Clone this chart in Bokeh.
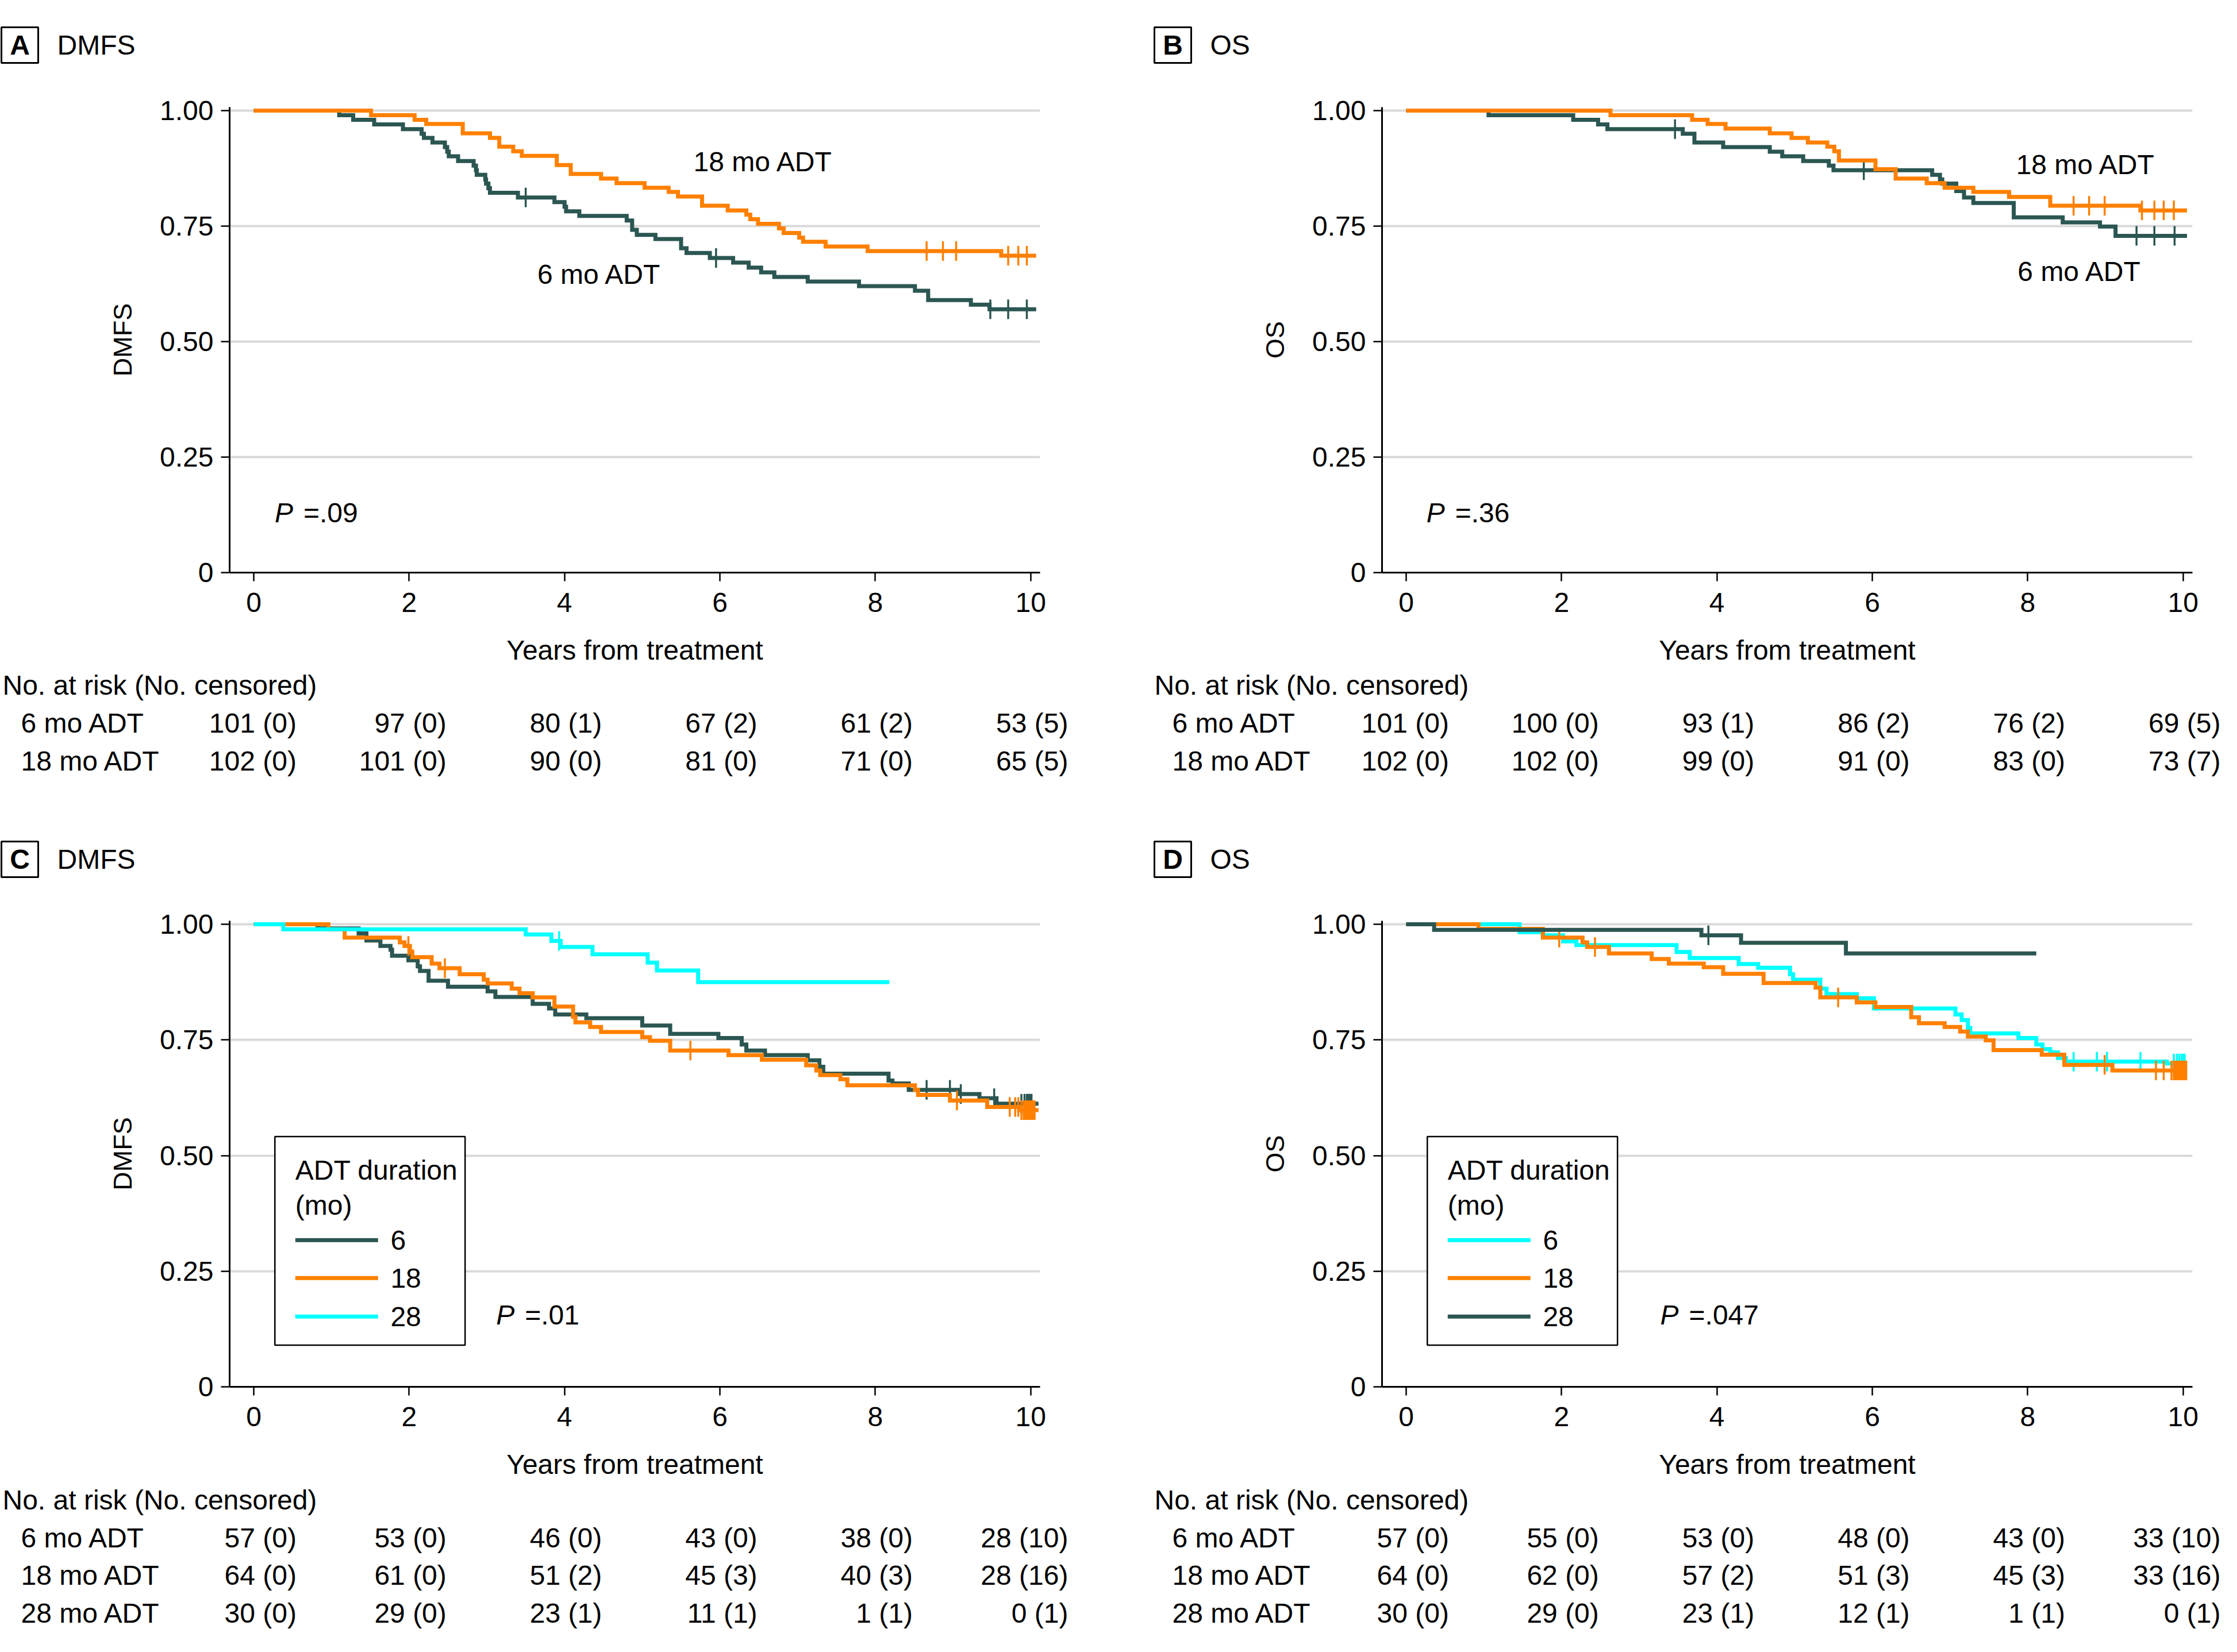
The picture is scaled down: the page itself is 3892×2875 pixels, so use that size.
import numpy as np
from bokeh.plotting import figure
from bokeh.layouts import column, row
from bokeh.models import Range1d, FixedTicker, CustomJSTickFormatter
from bokeh.core.properties import value
from bokeh.embed import file_html
from bokeh.resources import INLINE

FONT = "Liberation Sans"
FS = "48px"
DARK = "#2b5652"
ORANGE = "#ff8000"
CYAN = "#00ffff"
GRID = "#d9d9d9"

# ------------------------------------------------------------------ data
x_ticks = [0, 2, 4, 6, 8, 10]
y_ticks = [0, 0.25, 0.5, 0.75, 1.0]

# Panel A: DMFS, 6 vs 18 mo ADT
A6_t = [0, 1.10, 1.28, 1.55, 1.92, 2.16, 2.19, 2.30, 2.46, 2.49, 2.51, 2.63, 2.83, 2.86, 2.87, 2.98, 2.99, 3.02, 3.04, 3.40,
        3.87, 4.00, 4.02, 4.19, 4.80, 4.87, 4.93, 5.17, 5.50, 5.57, 5.87, 6.17, 6.37, 6.53, 6.70, 7.13, 7.79, 8.51, 8.68, 9.23,
        9.47, 10.07]
A6_s = [1.0, 0.990, 0.980, 0.970, 0.960, 0.950, 0.941, 0.931, 0.921, 0.911, 0.901, 0.891, 0.881, 0.871, 0.861, 0.851, 0.842,
        0.832, 0.822, 0.812, 0.802, 0.792, 0.782, 0.772, 0.762, 0.742, 0.731, 0.722, 0.702, 0.692, 0.681, 0.671, 0.660, 0.650,
        0.640, 0.630, 0.620, 0.610, 0.590, 0.580, 0.570, 0.570]
A6_c = [3.50, 5.95, 9.48, 9.71, 9.95]
A18_t = [0, 1.51, 2.07, 2.22, 2.69, 3.04, 3.16, 3.34, 3.45, 3.90, 4.08, 4.47, 4.67, 5.03, 5.34, 5.46, 5.77, 6.10, 6.34, 6.39,
         6.49, 6.76, 6.82, 7.02, 7.07, 7.36, 7.90, 9.62, 10.07]
A18_s = [1.0, 0.990, 0.980, 0.971, 0.951, 0.941, 0.922, 0.912, 0.902, 0.882, 0.863, 0.853, 0.843, 0.833, 0.824, 0.814, 0.794,
         0.784, 0.775, 0.765, 0.755, 0.745, 0.735, 0.725, 0.716, 0.706, 0.696, 0.686, 0.686]
A18_c = [8.66, 8.87, 9.04, 9.71, 9.84, 9.95]

# Panel B: OS, 6 vs 18 mo ADT
B6_t = [0, 1.06, 2.15, 2.47, 2.59, 3.56, 3.71, 4.08, 4.68, 4.84, 5.11, 5.44, 5.50, 6.77, 6.87, 6.90, 7.08, 7.18, 7.30, 7.82,
        8.45, 8.93, 9.13, 10.05]
B6_s = [1.0, 0.990, 0.980, 0.970, 0.960, 0.950, 0.931, 0.921, 0.911, 0.901, 0.891, 0.881, 0.871, 0.861, 0.851, 0.842, 0.826,
        0.812, 0.800, 0.769, 0.758, 0.749, 0.729, 0.729]
B6_c = [3.46, 5.89, 9.40, 9.63, 9.89]
B18_t = [0, 2.63, 3.68, 3.88, 4.11, 4.68, 4.96, 5.17, 5.42, 5.51, 5.57, 6.04, 6.30, 6.70, 6.93, 7.30, 7.76, 8.29, 9.45, 10.05]
B18_s = [1.0, 0.990, 0.980, 0.971, 0.961, 0.951, 0.941, 0.931, 0.922, 0.912, 0.892, 0.873, 0.853, 0.843, 0.833, 0.824, 0.813,
         0.794, 0.784, 0.784]
B18_c = [8.59, 8.79, 8.99, 9.47, 9.63, 9.75, 9.88]

# Panel C: DMFS, 6 / 18 / 28 mo ADT
C6_t = [0, 0.82, 1.35, 1.45, 1.63, 1.76, 1.78, 1.99, 2.11, 2.14, 2.25, 2.50, 3.01, 3.11, 3.59, 3.80, 3.88, 4.28, 5.00, 5.36,
        5.98, 6.28, 6.34, 6.58, 7.13, 7.28, 7.33, 8.17, 8.22, 8.43, 9.08, 9.34, 9.56, 10.10]
C6_s = [1.0, 0.991, 0.980, 0.965, 0.953, 0.945, 0.932, 0.922, 0.909, 0.899, 0.878, 0.865, 0.855, 0.843, 0.828, 0.818, 0.805,
        0.797, 0.781, 0.763, 0.754, 0.740, 0.727, 0.717, 0.706, 0.692, 0.677, 0.662, 0.656, 0.642, 0.633, 0.624, 0.612, 0.612]
C6_c = [8.66, 8.96, 9.10, 9.53, 9.88, 9.92, 9.95, 9.97, 9.99, 10.01]
C18_t = [0, 0.96, 1.17, 1.88, 1.94, 2.01, 2.04, 2.29, 2.39, 2.65, 2.96, 3.01, 3.32, 3.42, 3.59, 3.87, 4.11, 4.14, 4.33, 4.47,
         5.00, 5.10, 5.36, 6.11, 6.54, 7.11, 7.24, 7.29, 7.55, 7.64, 8.51, 8.55, 8.96, 9.44, 9.85, 10.10]
C18_s = [1.0, 0.989, 0.971, 0.961, 0.953, 0.941, 0.929, 0.915, 0.905, 0.892, 0.880, 0.872, 0.861, 0.851, 0.842, 0.822, 0.800,
         0.788, 0.778, 0.767, 0.756, 0.748, 0.727, 0.717, 0.707, 0.695, 0.684, 0.674, 0.665, 0.652, 0.642, 0.631, 0.619, 0.605,
         0.598, 0.598]
C18_c = [1.99, 2.46, 5.62, 9.05, 9.73, 9.80, 9.84, 9.88, 9.91, 9.93, 9.95, 9.97, 9.99, 10.01, 10.03, 10.05]
C28_t = [0, 0.38, 3.50, 3.83, 3.95, 4.36, 5.07, 5.19, 5.72, 8.18]
C28_s = [1.0, 0.989, 0.978, 0.964, 0.951, 0.935, 0.917, 0.900, 0.875, 0.875]
C28_c = [3.93]

# Panel D: OS, 6 / 18 / 28 mo ADT
D6_t = [0, 1.46, 1.76, 2.02, 2.19, 3.48, 3.65, 4.28, 4.53, 4.94, 4.98, 5.33, 5.41, 5.80, 6.02, 7.07, 7.15, 7.23, 7.26, 7.88,
        8.11, 8.19, 8.29, 8.39, 8.49, 9.79, 10.05]
D6_s = [1.0, 0.983, 0.976, 0.963, 0.955, 0.940, 0.927, 0.914, 0.906, 0.892, 0.880, 0.861, 0.849, 0.840, 0.818, 0.805, 0.793,
        0.776, 0.764, 0.754, 0.740, 0.730, 0.723, 0.711, 0.703, 0.699, 0.699]
D6_c = [8.59, 8.89, 9.02, 9.45, 9.88, 9.92, 9.95, 9.98, 10.00, 10.02]
D18_t = [0, 0.93, 1.76, 2.27, 2.33, 2.61, 3.16, 3.38, 3.83, 4.08, 4.60, 5.27, 5.33, 5.80, 6.04, 6.50, 6.60, 6.93, 7.13, 7.23,
         7.46, 7.56, 8.18, 8.47, 9.09, 10.05]
D18_s = [1.0, 0.990, 0.971, 0.961, 0.951, 0.937, 0.925, 0.915, 0.907, 0.893, 0.873, 0.863, 0.842, 0.831, 0.821, 0.799, 0.786,
         0.778, 0.768, 0.757, 0.749, 0.728, 0.718, 0.696, 0.684, 0.684]
D18_c = [1.97, 2.43, 5.56, 8.99, 9.65, 9.75, 9.85, 9.88, 9.90, 9.92, 9.94, 9.96, 9.98, 10.00, 10.02, 10.04]
D28_t = [0, 0.36, 3.80, 4.31, 5.66, 8.11]
D28_s = [1.0, 0.988, 0.976, 0.960, 0.937, 0.937]
D28_c = [3.89]

# Numbers at risk (censored) at years 0, 2, 4, 6, 8, 10
A_rows = ["6 mo ADT", "18 mo ADT"]
A_risk = [[101, 97, 80, 67, 61, 53], [102, 101, 90, 81, 71, 65]]
A_cens = [[0, 0, 1, 2, 2, 5], [0, 0, 0, 0, 0, 5]]
B_rows = ["6 mo ADT", "18 mo ADT"]
B_risk = [[101, 100, 93, 86, 76, 69], [102, 102, 99, 91, 83, 73]]
B_cens = [[0, 0, 1, 2, 2, 5], [0, 0, 0, 0, 0, 7]]
C_rows = ["6 mo ADT", "18 mo ADT", "28 mo ADT"]
C_risk = [[57, 53, 46, 43, 38, 28], [64, 61, 51, 45, 40, 28], [30, 29, 23, 11, 1, 0]]
C_cens = [[0, 0, 0, 0, 0, 10], [0, 0, 2, 3, 3, 16], [0, 0, 1, 1, 1, 1]]
D_rows = ["6 mo ADT", "18 mo ADT", "28 mo ADT"]
D_risk = [[57, 55, 53, 48, 43, 33], [64, 62, 57, 51, 45, 33], [30, 29, 23, 12, 1, 0]]
D_cens = [[0, 0, 0, 0, 0, 10], [0, 0, 2, 3, 3, 16], [0, 0, 1, 1, 1, 1]]

legend_labels = ["6", "18", "28"]

# ------------------------------------------------------------------ helpers
def step_value(times, surv, t):
    i = int(np.searchsorted(np.asarray(times), t, side="right")) - 1
    return surv[max(i, 0)]


def txt(p, x, y, s, align="left", size=FS, style="normal", font=FONT, x_offset=0):
    p.text(x=[x], y=[y], text=[s], text_align=align, text_baseline="middle",
           text_font=value(font), text_font_size=size, text_font_style=style,
           text_color="black", x_offset=x_offset)


def header_fig(W, H, letter, title, box_left, box_top):
    p = figure(width=W, height=H, x_range=Range1d(0, W), y_range=Range1d(H, 0),
               x_axis_type=None, y_axis_type=None, output_backend="svg",
               toolbar_location=None, title=None, min_border=0, frame_align=False)
    p.outline_line_color = None
    p.quad(left=[box_left], right=[box_left + 64], top=[box_top], bottom=[box_top + 62],
           fill_color=None, line_color="black", line_width=3)
    txt(p, box_left + 32, box_top + 31, letter, align="center", style="bold")
    txt(p, box_left + 97, box_top + 31, title)
    return p


MAIN_H = 1007


def km_fig(W, frame_left, x0, ppy, ppu, ylabel, curves, labels, pval, pxy, legend=None):
    H = MAIN_H
    bt = 30
    xs = -(x0 - frame_left) / ppy
    xe = 10.12
    fw = int(round((xe - xs) * ppy))
    mbr = W - frame_left - fw
    ye = 1 + 6.0 / ppu
    fh = int(round(ye * ppu))
    mbb = H - bt - fh
    p = figure(width=W, height=H, x_range=Range1d(xs, xe), y_range=Range1d(0, ye),
               output_backend="svg", toolbar_location=None, title=None, frame_align=False,
               min_border_left=frame_left, min_border_right=mbr,
               min_border_top=bt, min_border_bottom=mbb)
    p.outline_line_color = None
    p.xgrid.visible = False
    p.ygrid.ticker = FixedTicker(ticks=[0.25, 0.5, 0.75, 1.0])
    p.ygrid.grid_line_color = GRID
    p.ygrid.grid_line_width = 4

    for ax in (p.xaxis, p.yaxis):
        ax.axis_line_width = 3
        ax.axis_line_color = "black"
        ax.major_tick_line_width = 2.5
        ax.major_tick_out = 15
        ax.major_tick_in = 0
        ax.minor_tick_line_color = None
        ax.major_label_text_font = FONT
        ax.major_label_text_font_size = FS
        ax.major_label_text_color = "black"
        ax.axis_label_text_font_style = "normal"
        ax.axis_label_text_color = "black"

    p.xaxis.ticker = FixedTicker(ticks=x_ticks)
    p.xaxis.major_label_standoff = 20
    p.xaxis.axis_label = "Years from treatment"
    p.xaxis.axis_label_text_font = FONT
    p.xaxis.axis_label_text_font_size = FS
    p.xaxis.axis_label_standoff = 37

    p.yaxis.ticker = FixedTicker(ticks=y_ticks)
    p.yaxis.formatter = CustomJSTickFormatter(code="return tick == 0 ? '0' : tick.toFixed(2);")
    p.yaxis.major_label_standoff = 13
    p.yaxis.axis_label = ylabel
    p.yaxis.axis_label_text_font = "Liberation Sans"
    p.yaxis.axis_label_text_font_size = "45px"
    p.yaxis.axis_label_standoff = 36

    for (t, s, c, color) in curves:
        p.step(x=t, y=s, mode="after", line_width=7, line_color=color, line_join="miter")
        cy = [step_value(t, s, ci) for ci in c]
        p.scatter(x=c, y=cy, marker="dash", size=34, angle=np.pi / 2,
                  line_color=color, line_width=3.5)

    for (lx, ly, s) in labels:
        txt(p, lx, ly, s)

    txt(p, pxy[0], pxy[1], "P", style="italic")
    txt(p, pxy[0], pxy[1], "=" + pval, x_offset=50)

    if legend is not None:
        p.quad(left=[0.272], right=[2.72], top=[0.541], bottom=[0.09],
               fill_color="white", line_color="black", line_width=2.5)
        txt(p, 0.535, 0.468, "ADT duration")
        txt(p, 0.535, 0.392, "(mo)")
        ys = [0.317, 0.235, 0.152]
        p.segment(x0=[0.535] * 3, y0=ys, x1=[1.60] * 3, y1=ys, line_color=legend, line_width=7)
        for yy, lab in zip(ys, legend_labels):
            txt(p, 1.76, yy, lab)
    return p


def table_fig(W, x0, ppy, H, rows, risk, cens, first_y, row_dy, lab0_px, lab_px):
    p = figure(width=W, height=H, x_range=Range1d(-x0 / ppy, (W - x0) / ppy), y_range=Range1d(H, 0),
               x_axis_type=None, y_axis_type=None, output_backend="svg",
               toolbar_location=None, title=None, min_border=0, frame_align=False)
    p.outline_line_color = None
    px2x = lambda px: (px - x0) / ppy
    txt(p, px2x(lab0_px), first_y, "No. at risk (No. censored)")
    for i, name in enumerate(rows):
        yy = first_y + row_dy * (i + 1)
        txt(p, px2x(lab_px), yy, name)
        xs = [tk + (0.55 if tk == 0 else 0.48) for tk in x_ticks]
        labs = [f"{r} ({c})" for r, c in zip(risk[i], cens[i])]
        p.text(x=xs, y=[yy] * len(xs), text=labs, text_align="right", text_baseline="middle",
               text_font=value(FONT), text_font_size=FS, text_color="black")
    return p


# ------------------------------------------------------------------ layout geometry
WL, WR = 2002, 1874
L = dict(W=WL, frame_left=399, x0=441, ppy=135.2)
R = dict(W=WR, frame_left=402, x0=444, ppy=135.2)

hA = header_fig(WL, 156, "A", "DMFS", 2, 47)
pA = km_fig(L["W"], L["frame_left"], L["x0"], L["ppy"], 804, "DMFS",
            [(A6_t, A6_s, A6_c, DARK), (A18_t, A18_s, A18_c, ORANGE)],
            [(5.66, 0.889, "18 mo ADT"), (3.65, 0.646, "6 mo ADT")], ".09", (0.27, 0.129))
tA = table_fig(WL, L["x0"], L["ppy"], 259, A_rows, A_risk, A_cens, 29, 66, 4, 36)

hB = header_fig(WR, 156, "B", "OS", 6, 47)
pB = km_fig(R["W"], R["frame_left"], R["x0"], R["ppy"], 804, "OS",
            [(B6_t, B6_s, B6_c, DARK), (B18_t, B18_s, B18_c, ORANGE)],
            [(7.85, 0.883, "18 mo ADT"), (7.87, 0.652, "6 mo ADT")], ".36", (0.26, 0.129))
tB = table_fig(WR, R["x0"], R["ppy"], 259, B_rows, B_risk, B_cens, 29, 66, 6, 37)

hC = header_fig(WL, 150, "C", "DMFS", 2, 42)
pC = km_fig(L["W"], L["frame_left"], L["x0"], L["ppy"], 805, "DMFS",
            [(C6_t, C6_s, C6_c, DARK), (C18_t, C18_s, C18_c, ORANGE), (C28_t, C28_s, C28_c, CYAN)],
            [], ".01", (3.12, 0.155), legend=[DARK, ORANGE, CYAN])
tC = table_fig(WL, L["x0"], L["ppy"], 267, C_rows, C_risk, C_cens, 31, 65.5, 4, 36)

hD = header_fig(WR, 150, "D", "OS", 6, 42)
pD = km_fig(R["W"], R["frame_left"], R["x0"], R["ppy"], 805, "OS",
            [(D6_t, D6_s, D6_c, CYAN), (D18_t, D18_s, D18_c, ORANGE), (D28_t, D28_s, D28_c, DARK)],
            [], ".047", (3.27, 0.155), legend=[CYAN, ORANGE, DARK])
tD = table_fig(WR, R["x0"], R["ppy"], 267, D_rows, D_risk, D_cens, 31, 65.5, 6, 37)

layout = column(
    row(column(hA, pA, tA), column(hB, pB, tB)),
    row(column(hC, pC, tC), column(hD, pD, tD)),
)

open("out.html", "w").write(file_html(layout, INLINE))
